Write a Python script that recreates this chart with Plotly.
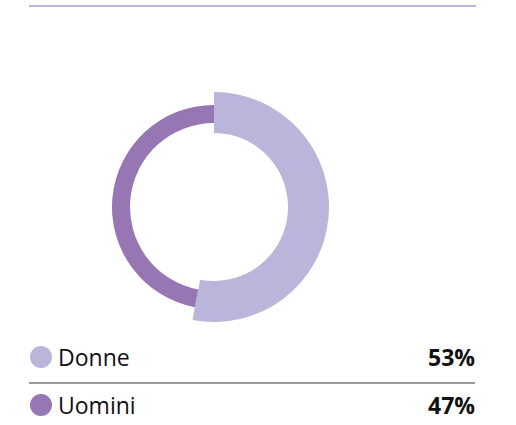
import plotly.graph_objects as go

W, H = 516, 425

categories = ["Donne", "Uomini"]
values = [53, 47]
colors = ["#bab5db", "#9677b3"]


def px(x):
    return x / W


def py(y):
    return 1 - y / H


# centre of the ring, in screen pixels
cx, cy = 214, 207
rings = [  # outer radius, inner radius for each slice
    (115, 74),
    (102, 84),
]

fig = go.Figure()
for i, (r_out, r_in) in enumerate(rings):
    slice_colors = ["rgba(0,0,0,0)"] * len(categories)
    slice_colors[i] = colors[i]
    fig.add_trace(go.Pie(
        labels=categories, values=values,
        sort=False, direction="clockwise", rotation=0,
        hole=r_in / r_out,
        marker=dict(colors=slice_colors, line=dict(width=0)),
        textinfo="none", hoverinfo="label+percent",
        domain=dict(x=[px(cx - r_out), px(cx + r_out)],
                    y=[py(cy + r_out), py(cy - r_out)]),
        showlegend=False,
    ))

# top rule
fig.add_shape(type="line", xref="paper", yref="paper",
              x0=px(29), x1=px(476), y0=py(6), y1=py(6),
              line=dict(color="#bcb6e0", width=2))

row_y = [357, 405]
for i, (name, val) in enumerate(zip(categories, values)):
    y = row_y[i]
    fig.add_shape(type="circle", xref="paper", yref="paper",
                  x0=px(30), x1=px(52), y0=py(y + 11), y1=py(y - 11),
                  fillcolor=colors[i], line=dict(width=0))
    fig.add_annotation(x=px(56), y=py(y), xref="paper", yref="paper",
                       xanchor="left", yanchor="middle", showarrow=False,
                       text=name, font=dict(family="Open Sans", size=23, color="#111111"))
    fig.add_annotation(x=px(477), y=py(y), xref="paper", yref="paper",
                       xanchor="right", yanchor="middle", showarrow=False,
                       text=f"<b>{val}%</b>", font=dict(family="Open Sans", size=23, color="#111111"))

# separator between the two rows
fig.add_shape(type="line", xref="paper", yref="paper",
              x0=px(29), x1=px(475), y0=py(383), y1=py(383),
              line=dict(color="#777777", width=1.5))

fig.update_layout(
    width=W, height=H,
    margin=dict(l=0, r=0, t=0, b=0),
    paper_bgcolor="white", plot_bgcolor="white",
    showlegend=False,
)
# drop the default body margin so the figure sits flush with the window
fig.write_html("out.html", config={"displayModeBar": False},
               post_script="document.body.style.margin='0';")
